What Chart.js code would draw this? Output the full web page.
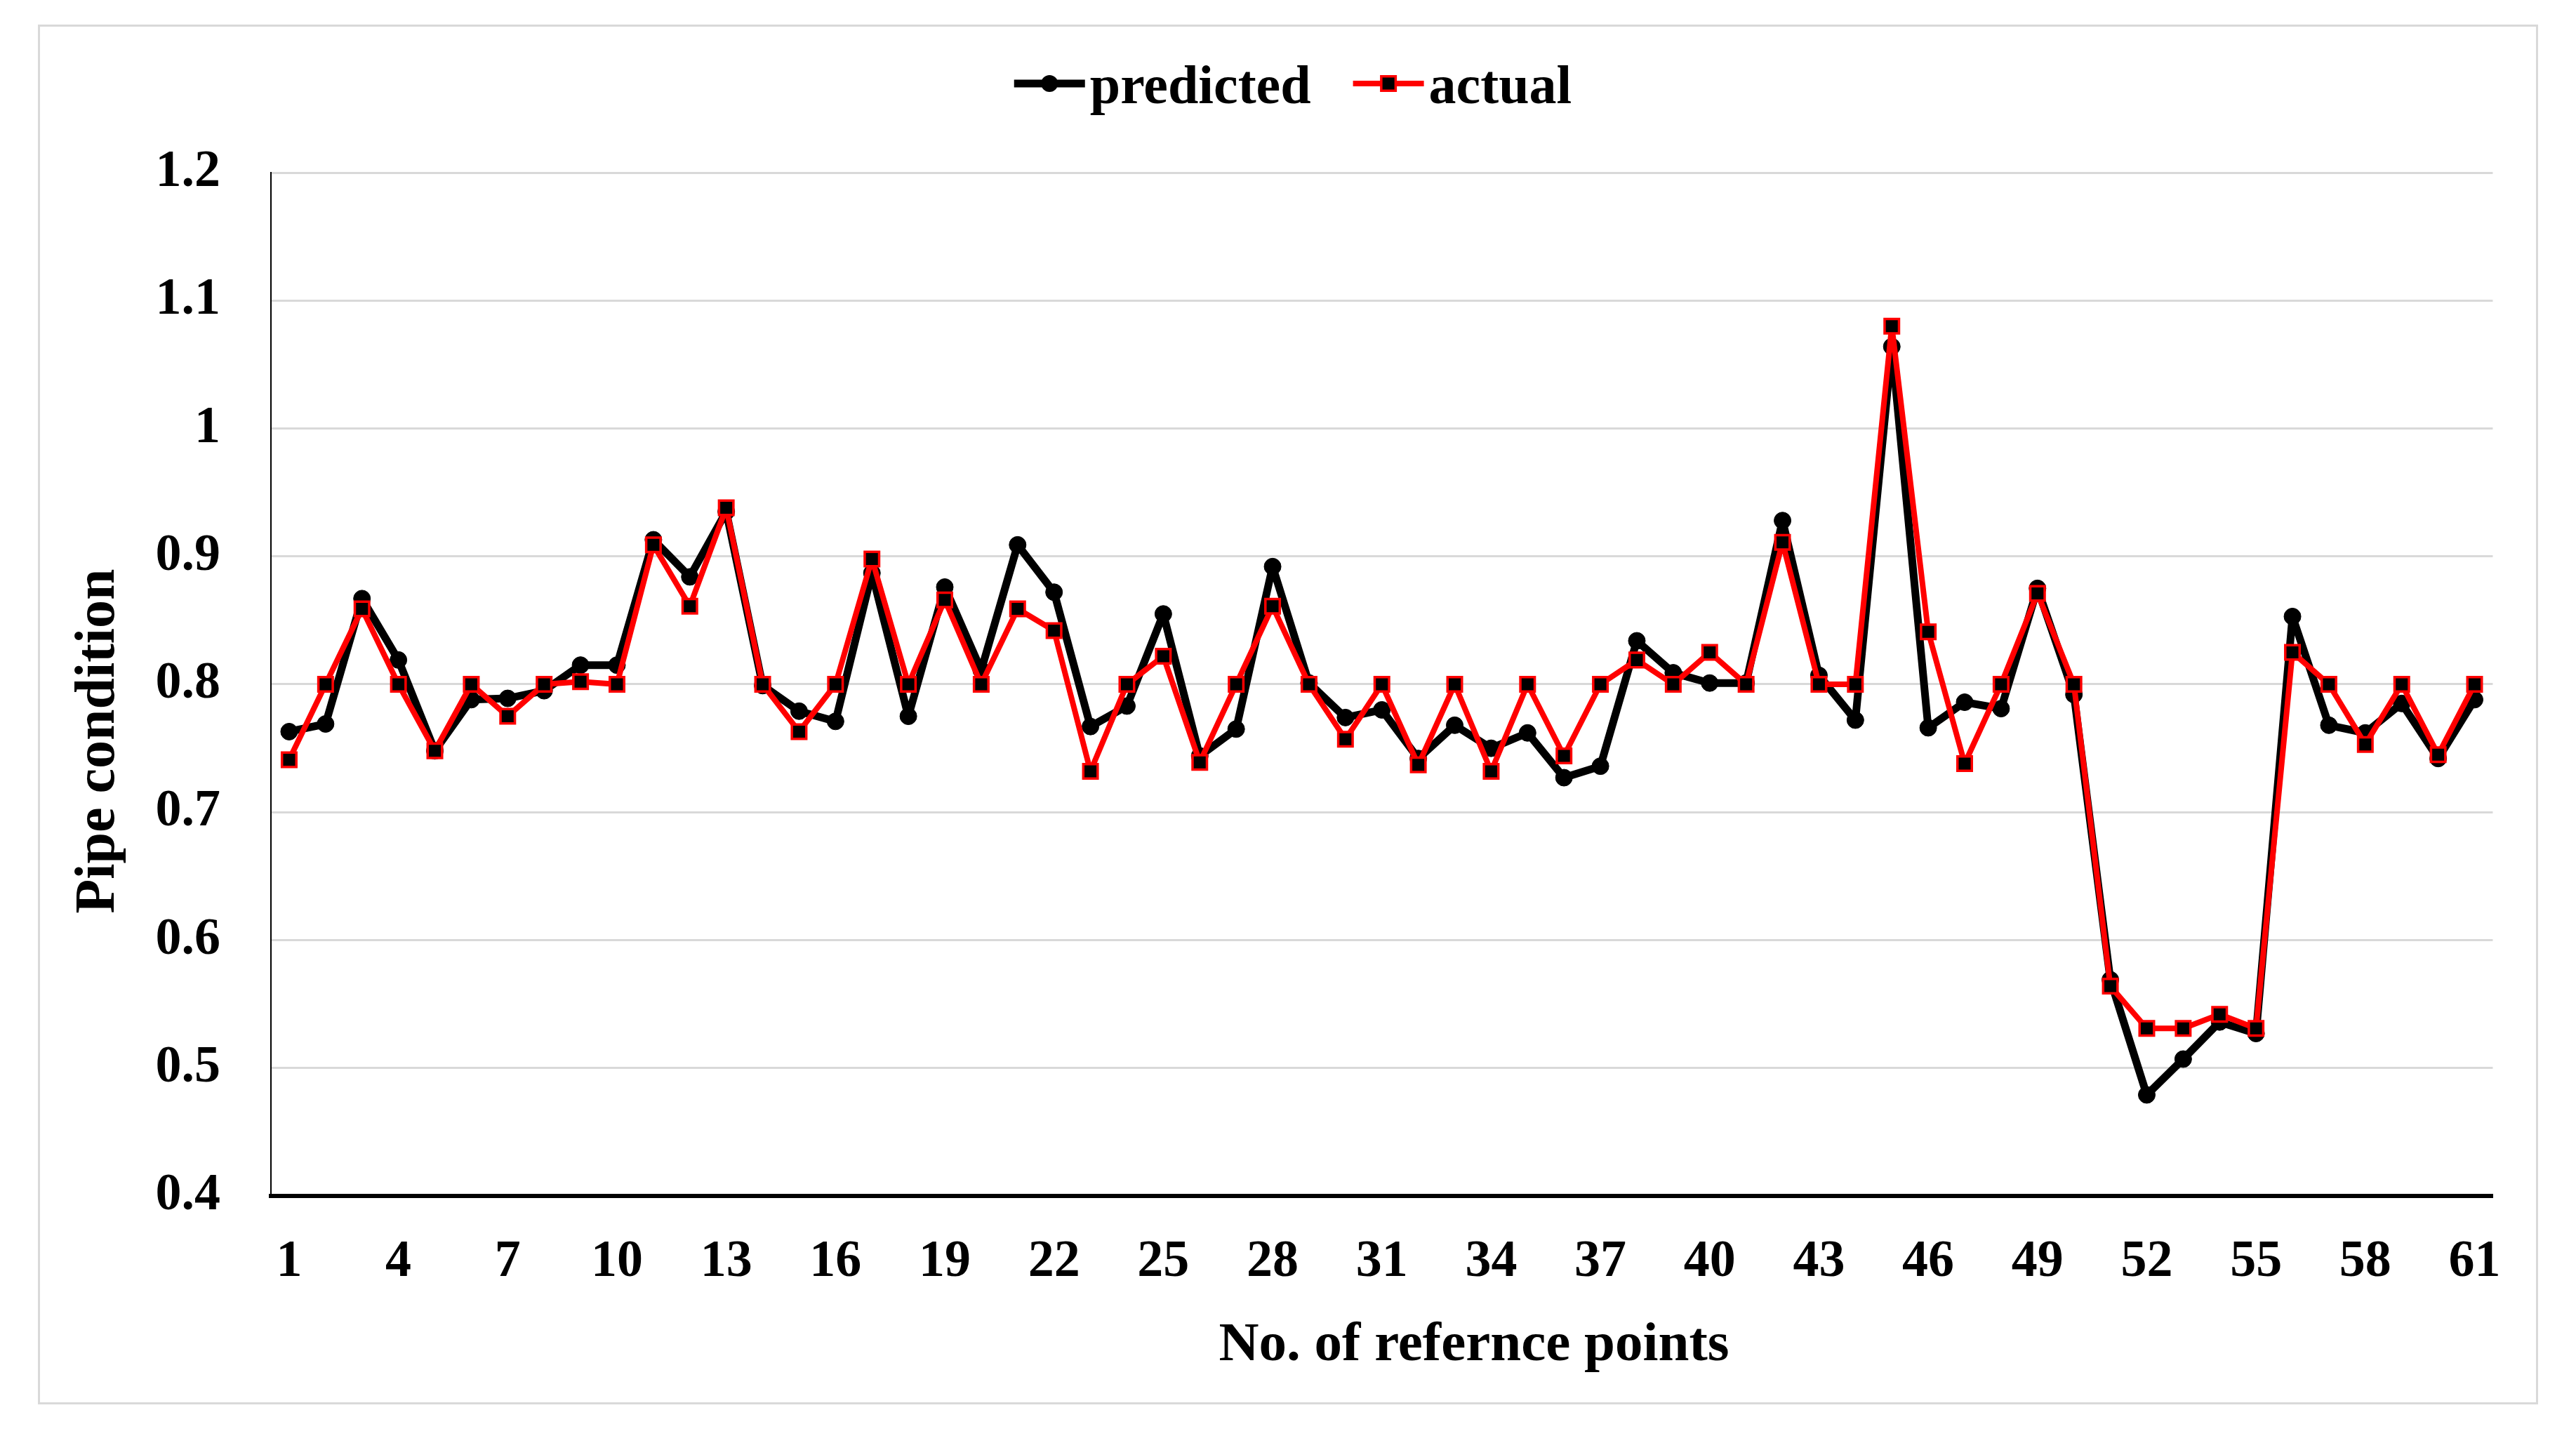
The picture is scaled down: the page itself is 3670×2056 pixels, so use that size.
<!DOCTYPE html>
<html lang="en">
<head>
    <meta charset="UTF-8">
    <title>Pipe condition</title>
    <script src="https://cdn.jsdelivr.net/npm/chart.js"></script>
    <style>
        body { margin: 0; background: #fff; }
        #frame {
            position: absolute;
            left: 54px; top: 35px;
            width: 3562px; height: 1966px;
            box-sizing: border-box;
            border: 3px solid #d9d9d9;
        }
    </style>
</head>
<body>
<div id="frame"><canvas id="pipeChart"></canvas></div>
<script>
// data
const points = Array.from({ length: 61 }, (_, i) => String(i + 1));
const predicted = [
  0.763, 0.769, 0.867, 0.819, 0.748, 0.788, 0.789, 0.795, 0.815, 0.815,
  0.913, 0.884, 0.935, 0.799, 0.779, 0.771, 0.887, 0.775, 0.876, 0.811,
  0.909, 0.872, 0.767, 0.783, 0.855, 0.744, 0.765, 0.892, 0.801, 0.774,
  0.780, 0.742, 0.768, 0.750, 0.762, 0.727, 0.736, 0.834, 0.809, 0.801,
  0.801, 0.928, 0.807, 0.772, 1.064, 0.766, 0.786, 0.781, 0.875, 0.792,
  0.569, 0.479, 0.507, 0.536, 0.527, 0.853, 0.768, 0.762, 0.785, 0.742, 0.788
];
const actual = [
  0.741, 0.800, 0.859, 0.800, 0.748, 0.800, 0.775, 0.800, 0.802, 0.800,
  0.909, 0.861, 0.938, 0.800, 0.763, 0.800, 0.898, 0.800, 0.866, 0.800,
  0.859, 0.842, 0.732, 0.800, 0.822, 0.739, 0.800, 0.861, 0.800, 0.757,
  0.800, 0.737, 0.800, 0.732, 0.800, 0.744, 0.800, 0.819, 0.800, 0.825,
  0.800, 0.911, 0.800, 0.800, 1.080, 0.841, 0.738, 0.800, 0.871, 0.800,
  0.564, 0.531, 0.531, 0.542, 0.531, 0.825, 0.800, 0.753, 0.800, 0.745, 0.800
];
const seriesNames = ['predicted', 'actual'];
const xTitle = 'No. of refernce points';
const yTitle = 'Pipe condition';

const FONT = '"Liberation Serif", "Times New Roman", serif';

// Excel-like legend (line + marker) and the axis titles, placed as in the figure
const legendPlugin = {
  id: 'excelLegend',
  afterDraw(chart) {
    const ctx = chart.ctx;
    ctx.save();
    ctx.font = 'bold 78px ' + FONT;
    const markW = 101, gapText = 7, gapItem = 60;
    const widths = seriesNames.map(n => markW + gapText + ctx.measureText(n).width);
    const total = widths[0] + gapItem + widths[1];
    let x = chart.width / 2 - total / 2 + 7;
    const cy = 81, base = 109;
    chart.data.datasets.forEach((ds, i) => {
      ctx.strokeStyle = ds.borderColor;
      ctx.lineWidth = ds.borderWidth;
      ctx.lineCap = 'butt';
      ctx.beginPath();
      ctx.moveTo(x, cy);
      ctx.lineTo(x + markW, cy);
      ctx.stroke();
      const mx = x + markW / 2;
      if (ds.pointStyle === 'circle') {
        ctx.fillStyle = '#000';
        ctx.beginPath();
        ctx.arc(mx, cy, ds.pointRadius, 0, Math.PI * 2);
        ctx.fill();
      } else {
        const s = ds.pointRadius * Math.SQRT1_2;
        ctx.fillStyle = '#000';
        ctx.fillRect(mx - s, cy - s, 2 * s, 2 * s);
        ctx.strokeStyle = ds.pointBorderColor;
        ctx.lineWidth = ds.pointBorderWidth;
        ctx.strokeRect(mx - s, cy - s, 2 * s, 2 * s);
      }
      ctx.fillStyle = '#000';
      ctx.textBaseline = 'alphabetic';
      ctx.textAlign = 'left';
      ctx.fillText(seriesNames[i], x + markW + gapText, base);
      x += widths[i] + gapItem;
    });

    // axis titles
    ctx.font = 'bold 79px ' + FONT;
    ctx.textAlign = 'center';
    ctx.textBaseline = 'middle';
    ctx.fillText(xTitle, 2043, 1880);
    ctx.translate(84, 1018);
    ctx.rotate(-Math.PI / 2);
    ctx.font = 'bold 80px ' + FONT;
    ctx.fillText(yTitle, 0, 0);
    ctx.restore();
  }
};

new Chart(document.getElementById('pipeChart'), {
  type: 'line',
  data: {
    labels: points,
    datasets: [
      {
        label: seriesNames[0],
        data: predicted,
        borderColor: '#000000',
        backgroundColor: '#000000',
        borderWidth: 11,
        borderJoinStyle: 'round',
        pointStyle: 'circle',
        pointRadius: 12,
        pointBackgroundColor: '#000000',
        pointBorderColor: '#000000',
        pointBorderWidth: 1,
        tension: 0,
        order: 2
      },
      {
        label: seriesNames[1],
        data: actual,
        borderColor: '#ff0000',
        backgroundColor: '#ff0000',
        borderWidth: 8,
        borderJoinStyle: 'round',
        pointStyle: 'rect',
        pointRadius: 14.5,
        pointBackgroundColor: '#000000',
        pointBorderColor: '#ff0000',
        pointBorderWidth: 3.5,
        tension: 0,
        order: 1
      }
    ]
  },
  options: {
    responsive: true,
    maintainAspectRatio: false,
    animation: false,
    layout: { padding: { top: 208, right: 60, bottom: 0, left: 0 } },
    plugins: {
      legend: { display: false },
      tooltip: { enabled: false }
    },
    scales: {
      x: {
        offset: true,
        grid: { display: false, drawTicks: false },
        border: { display: true, color: '#000000', width: 6 },
        ticks: {
          autoSkip: false,
          maxRotation: 0,
          padding: 50,
          color: '#000',
          font: { family: FONT, size: 74, weight: 'bold' },
          callback: (v, i) => (i % 3 === 0 ? points[i] : '')
        },
        afterFit: s => { s.height = 294; }
      },
      y: {
        min: 0.4,
        max: 1.2,
        grid: { color: '#d9d9d9', lineWidth: 3, drawTicks: false },
        border: { display: true, color: '#000000', width: 2 },
        ticks: {
          stepSize: 0.1,
          padding: 72,
          color: '#000',
          font: { family: FONT, size: 74, weight: 'bold' },
          callback: v => String(parseFloat(v.toFixed(1)))
        },
        afterFit: s => { s.width = 329; }
      }
    }
  },
  plugins: [legendPlugin]
});
</script>
</body>
</html>
